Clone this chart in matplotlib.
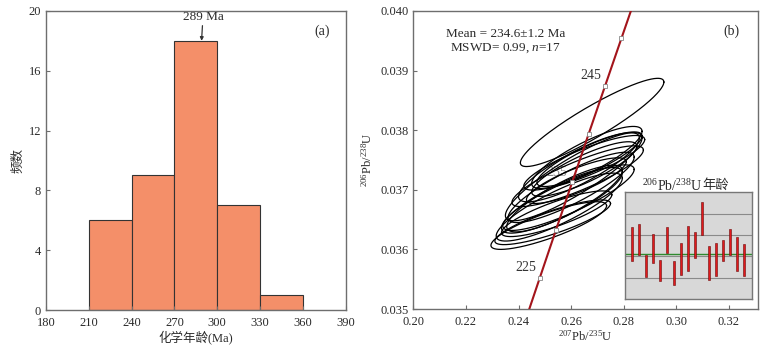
import numpy as np
import matplotlib
matplotlib.use("Agg")
import matplotlib.pyplot as plt

plt.rcParams['font.family'] = ['Liberation Serif', 'Noto Sans CJK SC']
plt.rcParams['mathtext.fontset'] = 'custom'
plt.rcParams['mathtext.rm'] = 'Liberation Serif'
plt.rcParams['mathtext.it'] = 'Liberation Serif:italic'
plt.rcParams['font.size'] = 9

# (a) histogram of chemical ages
bin_edges = [210, 240, 270, 300, 330, 360]
counts = [6, 9, 18, 7, 1]
peak_age = 289

# (b) concordia
conc_age = [220, 225, 230, 235, 240, 245, 250, 255]
conc_x = [0.24193, 0.24806, 0.25422, 0.26042, 0.26664, 0.27289, 0.27917, 0.28549]
conc_y = [0.034717, 0.035519, 0.036323, 0.037127, 0.037932, 0.038737, 0.039543, 0.040350]
tick_ages = [225, 230, 235, 240, 245, 250]
label_ages = {225: (0.2426, 0.03569), 235: (0.2545, 0.03729), 245: (0.2675, 0.03892)}

# ellipses: centre, half extents (2 sigma), correlation
ell_x = [0.2630, 0.2660, 0.2545, 0.2625, 0.2530, 0.2670, 0.2515, 0.2590, 0.2610,
         0.2650, 0.2680, 0.2555, 0.2575, 0.2620, 0.2650, 0.2600, 0.2565]
ell_xerr = [0.023, 0.021, 0.021, 0.025, 0.022, 0.020, 0.022, 0.025, 0.026,
            0.020, 0.0273, 0.024, 0.022, 0.019, 0.023, 0.024, 0.023]
ell_y = [0.037378, 0.037543, 0.036598, 0.037228, 0.036455, 0.037513, 0.036400, 0.036868, 0.037220,
         0.037348, 0.038130, 0.036710, 0.036853, 0.037153, 0.037453, 0.037040, 0.036823]
ell_yerr = [0.000580, 0.000520, 0.000383, 0.000510, 0.000375, 0.000458, 0.000400, 0.000550, 0.000740,
            0.000458, 0.000740, 0.000570, 0.000560, 0.000383, 0.000458, 0.000590, 0.000550]
ell_rho = [0.85, 0.84, 0.83, 0.86, 0.84, 0.85, 0.83, 0.86, 0.88,
           0.84, 0.915, 0.85, 0.84, 0.83, 0.85, 0.86, 0.84]

# inset: 206Pb/238U ages
ages = [236.85, 237.95, 231.65, 235.85, 230.7, 237.75, 230.05, 233.45, 235.8,
        236.65, 242.9, 232.4, 233.35, 235.35, 237.35, 234.6, 233.15]
age_err = [3.95, 3.55, 2.55, 3.45, 2.5, 3.05, 2.75, 3.75, 5.2,
           3.05, 3.9, 3.9, 3.85, 2.55, 3.05, 4.0, 3.75]
mean_age = 234.6

spine_c = '#6e6e6e'
text_c = '#2a2a2a'

fig = plt.figure(figsize=(7.73, 3.49), dpi=100)

def style(ax):
    for s in ax.spines.values():
        s.set_color(spine_c)
        s.set_linewidth(1.0)
    ax.tick_params(direction='in', length=3, color=spine_c, labelcolor=text_c, top=False, right=False)
    ax.tick_params(axis='x', pad=5)

# ---- (a)
ax1 = fig.add_axes([0.0595, 0.1117, 0.3877, 0.857])
ax1.bar(bin_edges[:-1], counts, width=30, align='edge', color='#f48f69',
        edgecolor='#333333', linewidth=0.8)
ax1.set_xlim(180, 390)
ax1.set_ylim(0, 20)
ax1.set_xticks(range(180, 391, 30))
ax1.set_yticks([0, 4, 8, 12, 16, 20])
ax1.set_xlabel('化学年龄(Ma)', color=text_c, labelpad=1)
ax1.set_ylabel('频数', color=text_c, labelpad=3)
ax1.annotate('289 Ma', xy=(peak_age, 18), xytext=(peak_age + 1, 19.2),
             ha='center', va='bottom', color=text_c, fontsize=9.5,
             arrowprops=dict(arrowstyle='-|>', color='#333333', lw=0.9,
                             mutation_scale=5, shrinkA=0, shrinkB=0))
ax1.text(0.92, 0.955, '(a)', transform=ax1.transAxes, ha='center', va='top',
         fontsize=10, color=text_c)
style(ax1)

# ---- (b)
ax2 = fig.add_axes([0.5348, 0.1146, 0.4454, 0.854])
t = np.linspace(0, 2 * np.pi, 300)
for cx, ex, cy, ey, r in zip(ell_x, ell_xerr, ell_y, ell_yerr, ell_rho):
    xs = cx + ex * np.cos(t)
    ys = cy + ey * (r * np.cos(t) + np.sqrt(1 - r ** 2) * np.sin(t))
    ax2.plot(xs, ys, color='black', lw=0.9, zorder=3)

for a, (lx, ly) in label_ages.items():
    ax2.text(lx, ly, str(a), ha='center', va='center', fontsize=10,
             color='#333333' if a != 235 else '#888888', zorder=2)

ax2.plot(conc_x, conc_y, color='#a3141b', lw=1.5, zorder=4)
tx = [conc_x[conc_age.index(a)] for a in tick_ages]
ty = [conc_y[conc_age.index(a)] for a in tick_ages]
ax2.plot(tx, ty, 's', ms=3, mfc='white', mec='#888888', mew=0.6, zorder=5)

ax2.set_xlim(0.20, 0.331)
ax2.set_ylim(0.035, 0.040)
ax2.set_xticks([0.20, 0.22, 0.24, 0.26, 0.28, 0.30, 0.32])
ax2.set_xticklabels(['0.20', '0.22', '0.24', '0.26', '0.28', '0.30', '0.32'])
ax2.set_yticks([0.035, 0.036, 0.037, 0.038, 0.039, 0.040])
ax2.set_yticklabels(['0.035', '0.036', '0.037', '0.038', '0.039', '0.040'])
ax2.set_xlabel(r'$^{207}$Pb/$^{235}$U', color=text_c, labelpad=1)
ax2.set_ylabel(r'$^{206}$Pb/$^{238}$U', color=text_c, labelpad=4)
ax2.text(0.2351, 0.03962, 'Mean = 234.6±1.2 Ma', ha='center', va='center',
         fontsize=9.5, color=text_c)
ax2.text(0.2351, 0.03937, 'MSWD= 0.99, $n$=17', ha='center', va='center',
         fontsize=9.5, color=text_c)
ax2.text(0.925, 0.955, '(b)', transform=ax2.transAxes, ha='center', va='top',
         fontsize=10, color=text_c)
style(ax2)

# ---- inset
ax3 = fig.add_axes([0.8085, 0.1433, 0.1639, 0.3057])
ax3.set_facecolor('#d8d8d8')
idx = np.arange(len(ages))
ax3.bar(idx, [2 * e for e in age_err], bottom=[a - e for a, e in zip(ages, age_err)],
        width=0.34, color='#e0191c', edgecolor='#6a0a0a', linewidth=0.4, zorder=3)
ax3.axhline(mean_age, color='#2f8a2f', lw=1.0, zorder=2)
ax3.set_xlim(-1.05, 17.1)
ax3.set_ylim(224, 249)
ax3.set_yticks([229, 234, 239, 244])
ax3.grid(axis='y', color='#8a8a8a', lw=0.8, zorder=1)
ax3.set_axisbelow(True)
ax3.tick_params(left=False, bottom=False, labelleft=False, labelbottom=False)
for s in ax3.spines.values():
    s.set_color('#777777')
    s.set_linewidth(1.0)
# title split so the CJK part gets a CJK font
fig.text(0.9085, 0.468, r'$^{206}$Pb/$^{238}$U', ha='right', va='center',
         fontsize=10, color=text_c)
fig.text(0.9085, 0.468, '年龄', ha='left', va='center', fontsize=9.5, color=text_c,
         family=['Noto Sans CJK SC'])

fig.savefig('out.png', dpi=100)
